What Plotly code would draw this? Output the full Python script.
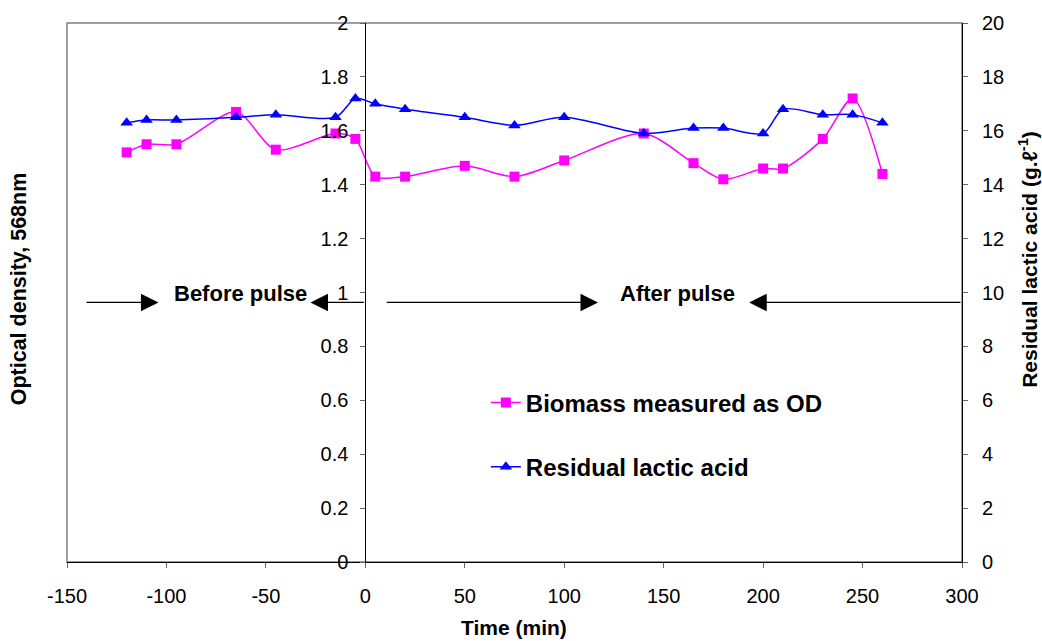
import plotly.graph_objects as go

# Sampling times (min), pulse at t = 0
time_od = [-120, -110, -95, -65, -45, -15, -5, 5, 20, 50, 75, 100, 140, 165, 180, 200, 210, 230, 245, 260]
od_568 = [1.52, 1.55, 1.55, 1.67, 1.53, 1.59, 1.57, 1.43, 1.43, 1.47, 1.43, 1.49, 1.59, 1.48, 1.42, 1.46, 1.46, 1.57, 1.72, 1.44]

time_lactic = [-120, -110, -95, -65, -45, -15, -5, 5, 20, 50, 75, 100, 140, 165, 180, 200, 210, 230, 245, 260]
lactic_acid = [16.3, 16.4, 16.4, 16.5, 16.6, 16.5, 17.2, 17.0, 16.8, 16.5, 16.2, 16.5, 15.9, 16.1, 16.1, 15.9, 16.8, 16.6, 16.6, 16.3]

x_ticks = [-150, -100, -50, 0, 50, 100, 150, 200, 250, 300]
x_labels = ["-150", "-100", "-50", "0", "50", "100", "150", "200", "250", "300"]
od_ticks = [0, 0.2, 0.4, 0.6, 0.8, 1, 1.2, 1.4, 1.6, 1.8, 2]
od_labels = ["0", "0.2", "0.4", "0.6", "0.8", "1", "1.2", "1.4", "1.6", "1.8", "2"]
la_ticks = list(range(0, 21, 2))

FONT = "Liberation Sans, Arial, sans-serif"

fig = go.Figure()
fig.add_trace(go.Scatter(
    x=time_od, y=od_568, name="<b>Biomass measured as OD</b>", legendgroup="od",
    mode="lines+markers", line=dict(color="#FF00FF", width=1.5, shape="spline", smoothing=0.8),
    marker=dict(symbol="square", size=10, color="#FF00FF"), yaxis="y",
))
fig.add_trace(go.Scatter(
    x=time_lactic, y=lactic_acid, name="<b>Residual lactic acid</b>", legendgroup="la",
    mode="lines+markers", line=dict(color="#0000FF", width=1.5, shape="spline", smoothing=0.8),
    marker=dict(symbol="triangle-up", size=11, color="#0000FF"), yaxis="y2",
))

# Phase markers: arrows bracketing the before/after pulse regions
arrow_y = 0.963
arrows = [(-141, -104), (0, -27.6), (10, 117), (300, 193)]  # (tail, head)
annotations = []
for tail, head in arrows:
    annotations.append(dict(
        x=head, y=arrow_y, ax=tail, ay=arrow_y, xref="x", yref="y", axref="x", ayref="y",
        showarrow=True, arrowhead=2, arrowsize=2.7, arrowwidth=1.3, arrowcolor="black", text="",
    ))
for label, xc in [("Before pulse", -63), ("After pulse", 157)]:
    annotations.append(dict(
        x=xc, y=0.996, xref="x", yref="y", text=f"<b>{label}</b>", showarrow=False,
        font=dict(family=FONT, size=22, color="black"),
    ))

# Axis titles
annotations.append(dict(
    x=-0.0536, y=0.506, xref="paper", yref="paper", xanchor="center", yanchor="middle",
    text="<b>Optical density, 568nm</b>",
    textangle=-90, showarrow=False, font=dict(family=FONT, size=21.5, color="black"),
))
annotations.append(dict(
    x=1.0735, y=0.562, xref="paper", yref="paper", xanchor="center", yanchor="middle",
    text="<b>Residual lactic acid (g.\u2113<sup>-1</sup>)</b>",
    textangle=-90, showarrow=False, font=dict(family=FONT, size=21, color="black"),
))
annotations.append(dict(
    x=0.4995, y=-0.121, xref="paper", yref="paper", xanchor="center", yanchor="middle",
    text="<b>Time (min)</b>", showarrow=False, font=dict(family=FONT, size=21, color="black"),
))

fig.update_layout(
    width=1042, height=641,
    margin=dict(l=67, r=80, t=21, b=79),
    paper_bgcolor="white", plot_bgcolor="white",
    font=dict(family=FONT, size=20, color="black"),
    showlegend=True,
    legend=dict(
        x=0.468, y=0.337, xanchor="left", yanchor="top",
        font=dict(family=FONT, size=24, color="black"),
        bgcolor="rgba(0,0,0,0)", tracegroupgap=30, itemwidth=30,
    ),
    xaxis=dict(
        range=[-150, 300], tickvals=x_ticks, ticktext=x_labels, ticks="outside", ticklen=5,
        tickcolor="#666", showline=True, linecolor="black", linewidth=1, showgrid=False,
        zeroline=False, ticklabelstandoff=11,
    ),
    yaxis=dict(
        range=[0, 2], tickvals=od_ticks, ticktext=od_labels, ticks="outside", ticklen=5,
        tickcolor="#666", showline=True, linecolor="black", linewidth=1,
        showgrid=False, zeroline=False, anchor="free", position=150 / 450,
        ticklabelstandoff=8,
    ),
    yaxis2=dict(
        range=[0, 20], tickvals=la_ticks, ticks="outside", ticklen=5, tickcolor="#666",
        showline=True, linecolor="black", linewidth=1, showgrid=False, zeroline=False,
        overlaying="y", side="right", anchor="x", ticklabelstandoff=10,
    ),
    shapes=[dict(
        type="rect", xref="paper", yref="paper", x0=0, x1=1, y0=0, y1=1,
        line=dict(color="#808080", width=1.5), layer="below",
    )],
    annotations=annotations,
)

fig.write_html("out.html")
